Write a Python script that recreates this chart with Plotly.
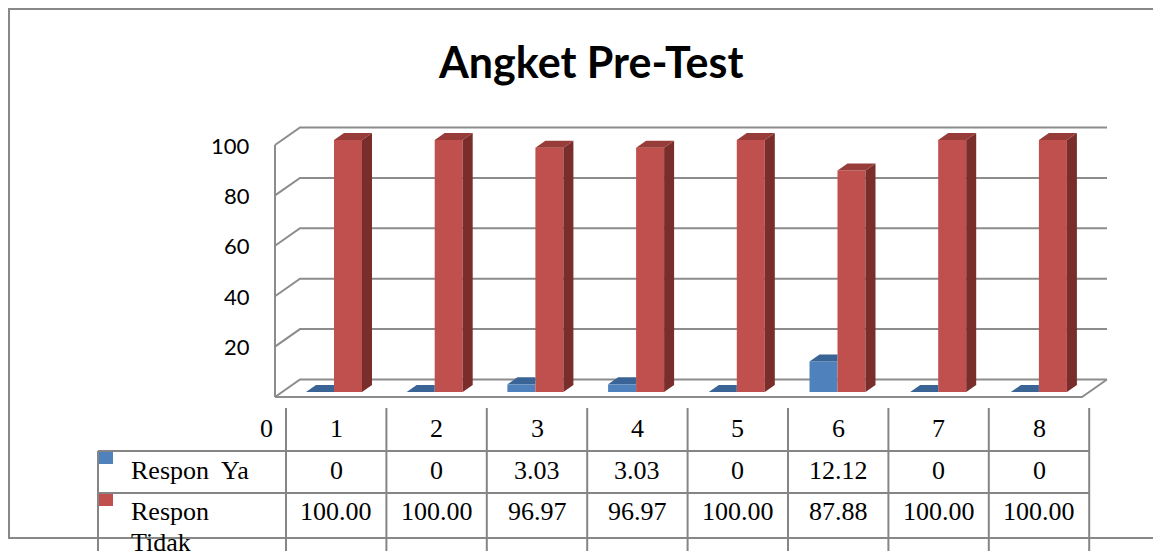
import plotly.graph_objects as go

# ---------------- data ----------------
categories = [1, 2, 3, 4, 5, 6, 7, 8]
respon_ya = [0, 0, 3.03, 3.03, 0, 12.12, 0, 0]
respon_tidak = [100.00, 100.00, 96.97, 96.97, 100.00, 87.88, 100.00, 100.00]
series_names = ["Respon  Ya", "Respon Tidak"]
y_ticks = [0, 20, 40, 60, 80, 100]
chart_title = "Angket Pre-Test"

# ---------------- geometry / style ----------------
W, H = 1161, 551          # window size
OFF = 8                   # default page margin around the figure
FIG_W, FIG_H = W - OFF, H - OFF
X_ORIGIN_PX = 334.0       # window pixel x of category 1 (between the two bars)
X_STEP_PX = 100.7         # pixel distance between categories
Y0_PX = 392.0             # window pixel y of value 0 on the bar plane
Y_SCALE = 2.52            # pixels per value unit

BAR_W = 28 / X_STEP_PX
SIDE_DX = 10 / X_STEP_PX
SIDE_DY = 7 / Y_SCALE
FRONT_DY = -5 / Y_SCALE      # front plane relative to bar plane
BACK_DY = 12.5 / Y_SCALE     # back plane relative to bar plane

BLUE, BLUE_TOP = "#4F81BD", "#3A6496"
RED, RED_TOP, RED_SIDE = "#C0504D", "#983C39", "#7A2E2C"
GRID = "#8C8C8C"
TABLE_FONT = dict(family="Liberation Serif", size=26, color="black")


def xd(px):
    return 1 + (px - X_ORIGIN_PX) / X_STEP_PX


def yd(py):
    return (Y0_PX - py) / Y_SCALE


def px_x(px):
    return (px - OFF) / FIG_W


def px_y(py):
    return 1 - (py - OFF) / FIG_H


fig = go.Figure()

# front faces
fig.add_trace(go.Bar(x=categories, y=respon_ya, width=BAR_W, offset=-BAR_W,
                     marker=dict(color=BLUE, line=dict(width=0)), name=series_names[0],
                     hoverinfo="skip"))
fig.add_trace(go.Bar(x=categories, y=respon_tidak, width=BAR_W, offset=0,
                     marker=dict(color=RED, line=dict(width=0)), name=series_names[1],
                     hoverinfo="skip"))

# blue top faces (visible part, the rest is hidden by the red bar)
bx, by = [], []
for c, v in zip(categories, respon_ya):
    x0, x1 = c - BAR_W, c
    bx += [x0, x1, x1, x0 + SIDE_DX, x0, None]
    by += [v, v, v + SIDE_DY, v + SIDE_DY, v, None]
fig.add_trace(go.Scatter(x=bx, y=by, fill="toself", fillcolor=BLUE_TOP, mode="lines",
                         line=dict(width=0), hoverinfo="skip", showlegend=False))

# red side and top faces
sx, sy, tx, ty = [], [], [], []
for c, v in zip(categories, respon_tidak):
    x0, x1 = c, c + BAR_W
    sx += [x1, x1, x1 + SIDE_DX, x1 + SIDE_DX, x1, None]
    sy += [0, v, v + SIDE_DY, SIDE_DY, 0, None]
    tx += [x0, x1, x1 + SIDE_DX, x0 + SIDE_DX, x0, None]
    ty += [v, v, v + SIDE_DY, v + SIDE_DY, v, None]
fig.add_trace(go.Scatter(x=sx, y=sy, fill="toself", fillcolor=RED_SIDE, mode="lines",
                         line=dict(width=0), hoverinfo="skip", showlegend=False))
fig.add_trace(go.Scatter(x=tx, y=ty, fill="toself", fillcolor=RED_TOP, mode="lines",
                         line=dict(width=0), hoverinfo="skip", showlegend=False))

shapes = []
# walls: gridlines on the back wall and the left wall
XL_F, XL_B, XR_B, XR_F = xd(275), xd(300), xd(1107), xd(1082)
for v in y_ticks:
    shapes.append(dict(type="path", xref="x", yref="y", layer="below",
                       path=f"M{XL_F},{v + FRONT_DY} L{XL_B},{v + BACK_DY} L{XR_B},{v + BACK_DY}",
                       line=dict(color=GRID, width=2)))
# front-left vertical edge
shapes.append(dict(type="line", xref="x", yref="y", layer="below",
                   x0=XL_F, x1=XL_F, y0=FRONT_DY, y1=max(y_ticks) + FRONT_DY,
                   line=dict(color=GRID, width=2)))
# floor front edge and right side
shapes.append(dict(type="path", xref="x", yref="y", layer="below",
                   path=f"M{XL_F},{FRONT_DY} L{XR_F},{FRONT_DY} L{XR_B},{BACK_DY}",
                   line=dict(color=GRID, width=2)))

# outer chart border
shapes.append(dict(type="rect", xref="paper", yref="paper",
                   x0=px_x(9), x1=px_x(1175), y0=px_y(538), y1=px_y(9),
                   line=dict(color="#888888", width=2), fillcolor="rgba(0,0,0,0)"))

# data table
COL_L, COL_STEP = 286.0, 100.4
TBL_L = 98
cols = [COL_L + i * COL_STEP for i in range(len(categories) + 1)]
for cx in cols:
    shapes.append(dict(type="line", xref="paper", yref="paper",
                       x0=px_x(cx), x1=px_x(cx), y0=px_y(408), y1=px_y(560),
                       line=dict(color="#858585", width=2)))
shapes.append(dict(type="line", xref="paper", yref="paper",
                   x0=px_x(TBL_L), x1=px_x(TBL_L), y0=px_y(451), y1=px_y(560),
                   line=dict(color="#858585", width=2)))
for ry in (451, 493):
    shapes.append(dict(type="line", xref="paper", yref="paper",
                       x0=px_x(TBL_L), x1=px_x(cols[-1]), y0=px_y(ry), y1=px_y(ry),
                       line=dict(color="#858585", width=2)))
# legend keys
for top, col in ((452, BLUE), (494, RED)):
    shapes.append(dict(type="rect", xref="paper", yref="paper",
                       x0=px_x(99), x1=px_x(113), y0=px_y(top + 12), y1=px_y(top),
                       line=dict(width=0), fillcolor=col))

annotations = []
# title
annotations.append(dict(text=f"<b>{chart_title}</b>", xref="paper", yref="paper",
                        x=px_x(590), y=px_y(62), xanchor="center", yanchor="middle",
                        showarrow=False, font=dict(family="Lato", size=43, color="black")))
# y tick labels (front plane)
for v in y_ticks:
    if v == 0:
        annotations.append(dict(text=str(v), xref="paper", yref="paper",
                                x=px_x(275), y=px_y(428), xanchor="right", yanchor="middle",
                                showarrow=False, font=TABLE_FONT))
    else:
        annotations.append(dict(text=str(v), xref="x", yref="y",
                                x=xd(252), y=v + FRONT_DY, xanchor="right", yanchor="middle",
                                showarrow=False,
                                font=dict(family="Lato", size=22, color="black")))


def fmt_ya(v):
    return "0" if v == 0 else f"{v:.2f}"


for i, c in enumerate(categories):
    cx = px_x(cols[i] + COL_STEP / 2)
    annotations.append(dict(text=str(c), xref="paper", yref="paper", x=cx, y=px_y(428),
                            xanchor="center", yanchor="middle", showarrow=False, font=TABLE_FONT))
    annotations.append(dict(text=fmt_ya(respon_ya[i]), xref="paper", yref="paper", x=cx,
                            y=px_y(470), xanchor="center", yanchor="middle", showarrow=False,
                            font=TABLE_FONT))
    annotations.append(dict(text=f"{respon_tidak[i]:.2f}", xref="paper", yref="paper", x=cx,
                            y=px_y(511), xanchor="center", yanchor="middle", showarrow=False,
                            font=TABLE_FONT))

# row headers
annotations.append(dict(text=series_names[0].replace("  ", "\u00a0 "), xref="paper", yref="paper",
                        x=px_x(129), y=px_y(470), xanchor="left", yanchor="middle",
                        showarrow=False, font=TABLE_FONT))
for j, word in enumerate(series_names[1].split(" ")):
    annotations.append(dict(text=word, xref="paper", yref="paper",
                            x=px_x(129), y=px_y(511 + 31 * j), xanchor="left", yanchor="middle",
                            showarrow=False, font=TABLE_FONT))

fig.update_layout(
    width=FIG_W, height=FIG_H,
    margin=dict(l=0, r=0, t=0, b=0),
    paper_bgcolor="white", plot_bgcolor="white",
    barmode="overlay", showlegend=False,
    xaxis=dict(range=[xd(OFF), xd(W)], visible=False, fixedrange=True),
    yaxis=dict(range=[yd(H), yd(OFF)], visible=False, fixedrange=True),
    shapes=shapes, annotations=annotations,
)

fig.write_html("out.html")
